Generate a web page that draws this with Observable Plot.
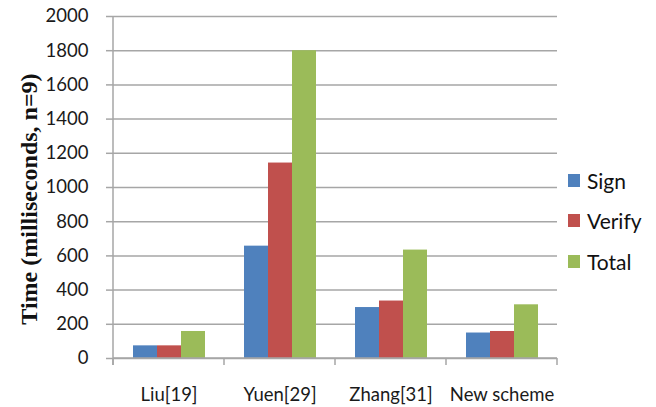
<!DOCTYPE html>
<html><head><meta charset="utf-8">
<script src="https://cdn.jsdelivr.net/npm/d3@7"></script>
<script src="https://cdn.jsdelivr.net/npm/@observablehq/plot@0.6"></script>
<style>
html,body{margin:0;padding:0;background:#fff;}
#wrap{position:relative;width:656px;height:407px;overflow:hidden;}
#wrap svg{position:absolute;left:0;top:0;}
.legend{position:absolute;left:568px;top:160px;font-family:Lato,sans-serif;font-size:21px;color:#111;}
.item{display:flex;align-items:center;height:40.5px;}
.sw{width:12px;height:13px;margin-right:7px;flex:none;}
.ytitle{position:absolute;left:29px;top:199px;transform:translate(-50%,-50%) rotate(-90deg);white-space:nowrap;font-family:"Liberation Serif","Times New Roman",serif;font-weight:bold;font-size:24px;color:#111;}
</style></head><body><div id="wrap"></div>
<script>
const categories = ["Liu[19]", "Yuen[29]", "Zhang[31]", "New scheme"];
const series = ["Sign", "Verify", "Total"];
const signValues = [74, 657, 298, 149];
const verifyValues = [74, 1143, 336, 158];
const totalValues = [158, 1800, 634, 314];
const colors = ["#4F81BD", "#C0504D", "#9BBB59"];
const yTicks = [0, 200, 400, 600, 800, 1000, 1200, 1400, 1600, 1800, 2000];
const yTitle = "Time (milliseconds, n=9)";

const valuesBySeries = [signValues, verifyValues, totalValues];
const rows = [];
categories.forEach((c, i) => series.forEach((s, j) => rows.push({category: c, series: s, value: valuesBySeries[j][i]})));

const gridColor = "#A6A6A6";

function boundaryTicks(index, scales, values, dimensions, context, next) {
  const fx = scales.fx, y = scales.y;
  const g = d3.create("svg:g").attr("stroke", gridColor).attr("stroke-width", 1.5).attr("fill", "none");
  const y0 = y(0), yTop = y(d3.max(yTicks));
  const dom = fx.domain();
  const edges = dom.map(d => fx(d)).concat([fx(dom[dom.length - 1]) + fx.bandwidth()]);
  g.append("line").attr("x1", edges[0]).attr("x2", edges[0]).attr("y1", yTop).attr("y2", y0 + 7);
  g.append("line").attr("x1", edges[0]).attr("x2", edges[edges.length - 1]).attr("y1", y0).attr("y2", y0);
  for (const e of edges) g.append("line").attr("x1", e).attr("x2", e).attr("y1", y0).attr("y2", y0 + 7);
  return g.node();
}

const chart = Plot.plot({
  width: 656,
  height: 407,
  marginLeft: 113,
  marginRight: 99,
  marginTop: 16,
  marginBottom: 49,
  style: {fontFamily: "Lato, sans-serif", fontSize: "18.5px", color: "#1a1a1a", background: "white"},
  fx: {domain: categories, padding: 0, label: null},
  x: {domain: series, paddingInner: 0, paddingOuter: 0.747, axis: null},
  y: {domain: [0, 2000], ticks: yTicks, label: null},
  color: {domain: series, range: colors},
  marks: [
    Plot.gridY(yTicks, {stroke: gridColor, strokeOpacity: 1, strokeWidth: 1.5}),
    Plot.barY(rows, {fx: "category", x: "series", y: "value", fill: "series"}),
    Plot.axisY(yTicks, {tickSize: 7, tickPadding: 18, tickFormat: d => String(d), stroke: gridColor, strokeWidth: 1.5, fill: "#1a1a1a", label: null}),
    Plot.axisFx({anchor: "bottom", tickSize: 0, tickPadding: 29, label: null, fill: "#1a1a1a"}),
    Plot.ruleY([0], {stroke: gridColor, strokeWidth: 1.5, facetAnchor: "left", render: boundaryTicks})
  ]
});

const wrap = document.getElementById("wrap");
wrap.appendChild(chart);

const title = document.createElement("div");
title.className = "ytitle";
title.textContent = yTitle;
wrap.appendChild(title);

const legend = document.createElement("div");
legend.className = "legend";
series.forEach((s, j) => {
  const item = document.createElement("div");
  item.className = "item";
  const sw = document.createElement("span");
  sw.className = "sw";
  sw.style.background = colors[j];
  const t = document.createElement("span");
  t.textContent = s;
  item.appendChild(sw); item.appendChild(t);
  legend.appendChild(item);
});
wrap.appendChild(legend);
</script>
</body></html>
